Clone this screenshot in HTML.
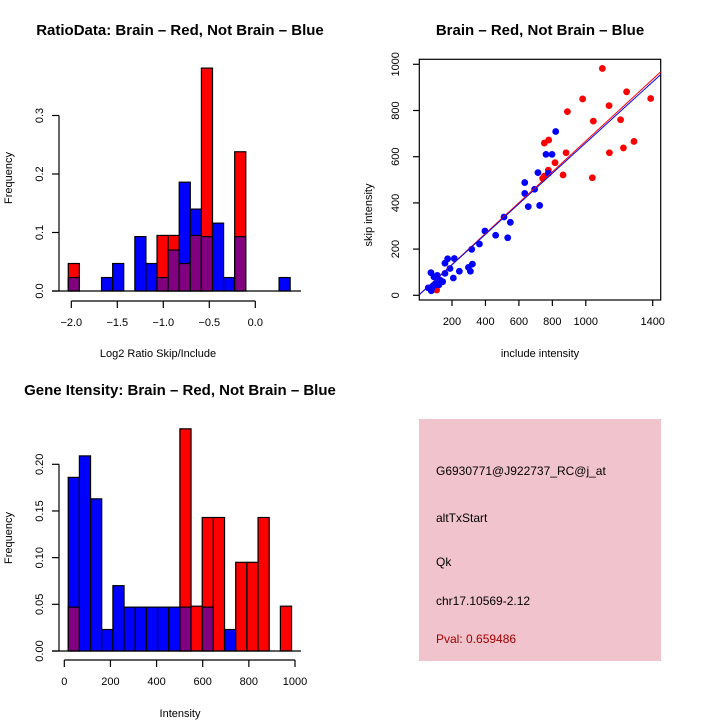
<!DOCTYPE html>
<html><head><meta charset="utf-8"><style>
body{margin:0;background:#fff}
svg{display:block;font-family:"Liberation Sans",Arial,sans-serif}
</style></head><body>
<svg id="c" width="720" height="720" xmlns="http://www.w3.org/2000/svg">
<rect width="720" height="720" fill="#fff"/>
<text x="180" y="35" font-size="15" font-weight="bold" text-anchor="middle">RatioData: Brain – Red, Not Brain – Blue</text>
<text x="540" y="35" font-size="15" font-weight="bold" text-anchor="middle">Brain – Red, Not Brain – Blue</text>
<text x="180" y="395" font-size="15" font-weight="bold" text-anchor="middle">Gene Itensity: Brain – Red, Not Brain – Blue</text>
<text x="158" y="357" font-size="11" text-anchor="middle">Log2 Ratio Skip/Include</text>
<text x="12" y="178" font-size="11" text-anchor="middle" transform="rotate(-90 12 178)">Frequency</text>
<text x="540" y="357" font-size="11" text-anchor="middle">include intensity</text>
<text x="372" y="215" font-size="11" text-anchor="middle" transform="rotate(-90 372 215)">skip intensity</text>
<text x="180" y="717" font-size="11" text-anchor="middle">Intensity</text>
<text x="12" y="538" font-size="11" text-anchor="middle" transform="rotate(-90 12 538)">Frequency</text>
<g>
<rect x="419" y="419" width="242" height="242" fill="#f1c3cc"/>
<text x="436" y="475" font-size="12">G6930771@J922737_RC@j_at</text>
<text x="436" y="522" font-size="12">altTxStart</text>
<text x="436" y="566" font-size="12">Qk</text>
<text x="436" y="605" font-size="12">chr17.10569-2.12</text>
<text x="436" y="643" font-size="12" fill="#a00000">Pval: 0.659486</text>
</g>
</svg>
<script>
// ---- Ratio histogram data ----
const ratioBinStart = -2.033;
const ratioBinWidth = 0.1206;
const ratioRed  = [0.047,0,0,0,0,0,0,0,0.095,0.095,0.047,0.095,0.381,0,0,0.238,0,0,0,0];
const ratioBlue = [0.023,0,0,0.023,0.047,0,0.093,0.047,0.023,0.070,0.186,0.140,0.093,0.116,0.023,0.093,0,0,0,0.023];
const ratioXTicks = [-2.0,-1.5,-1.0,-0.5,0.0];
const ratioXLabels = ["−2.0","−1.5","−1.0","−0.5","0.0"];
const ratioYTicks = [0,0.1,0.2,0.3];
const ratioYLabels = ["0.0","0.1","0.2","0.3"];
// ---- Intensity histogram data ----
const intBinStart = 17;
const intBinWidth = 48.4;
const intRed  = [0.047,0,0,0,0,0,0,0,0,0,0.238,0.048,0.143,0.143,0,0.095,0.095,0.143,0,0.048];
const intBlue = [0.186,0.209,0.163,0.023,0.070,0.047,0.047,0.047,0.047,0.047,0.047,0,0.047,0,0.023,0,0,0,0,0];
const intXTicks = [0,200,400,600,800,1000];
const intYTicks = [0,0.05,0.10,0.15,0.20];
const intYLabels = ["0.00","0.05","0.10","0.15","0.20"];
// ---- Scatter data ----
const redX = [1099,981,890,1244,1139,1045,1388,1208,1288,1225,1141,778,752,816,882,776,864,1039,742,752,108];
const redY = [982,850,795,881,821,754,852,760,666,638,617,672,659,574,617,542,521,509,506,516,23];
const blueX = [820,762,798,714,776,635,635,694,656,724,511,549,397,461,533,364,318,322,298,310,244,208,214,174,158,188,158,74,92,112,128,112,84,58,76,98,122,144];
const blueY = [709,610,610,531,528,488,441,459,384,389,339,316,278,260,249,222,199,135,121,104,104,75,159,158,139,116,95,98,80,86,66,52,37,32,20,45,45,59];
const fitIntercept = [0,0];
const fitSlope = [0.668,0.660];
const fitColors = ["#ff0000","#0000ff"];
const scXTicks = [200,400,600,800,1000,1400];
const scYTicks = [0,200,400,600,800,1000];

const svg = document.getElementById('c');
const NS = 'http://www.w3.org/2000/svg';
function mk(tag, attrs, parent){const e=document.createElementNS(NS,tag);for(const k in attrs)e.setAttribute(k,attrs[k]);(parent||svg).appendChild(e);return e;}

function drawHist(cfg){
  const g = mk('g',{});
  
  
  const n = cfg.red.length;
  for(let i=0;i<n;i++){
    const x0 = cfg.sx(cfg.start + i*cfg.width), x1 = cfg.sx(cfg.start + (i+1)*cfg.width);
    const r = cfg.red[i], b = cfg.blue[i], m = Math.min(r,b);
    const draw=(v,col,nm)=>{ if(v<=0) return;
      const el = mk('rect',{x:x0,y:cfg.sy(v),width:x1-x0,height:cfg.sy(0)-cfg.sy(v),fill:col,stroke:'#000','stroke-width':1.2},g);
      
      
    };
    if(r>=b){draw(r,'#ff0000','bar-red');} else {draw(b,'#0000ff','bar-blue');}
    draw(m,'#800080','bar-overlap');
  }
  mk('line',{x1:52,x2:301,y1:cfg.sy(0),y2:cfg.sy(0),stroke:'#000','stroke-width':1.2},g);
  const ya = mk('g',{},g);
  
  
  mk('line',{x1:59,x2:59,y1:cfg.sy(cfg.yt[0]),y2:cfg.sy(cfg.yt[cfg.yt.length-1]),stroke:'#000','stroke-width':1.2},ya);
  cfg.yt.forEach((v,i)=>{const y=cfg.sy(v);
    mk('line',{x1:52,x2:59,y1:y,y2:y,stroke:'#000','stroke-width':1.2},ya);
    const t=mk('text',{x:43,y:y,'font-size':11,'text-anchor':'middle',transform:`rotate(-90 43 ${y})`},ya);t.textContent=cfg.yl[i];
  });
  const xa = mk('g',{},g);
  
  
  const xy = cfg.axisY;
  mk('line',{x1:cfg.sx(cfg.xt[0]),x2:cfg.sx(cfg.xt[cfg.xt.length-1]),y1:xy,y2:xy,stroke:'#000','stroke-width':1.2},xa);
  cfg.xt.forEach((v,i)=>{const x=cfg.sx(v);
    mk('line',{x1:x,x2:x,y1:xy,y2:xy+7,stroke:'#000','stroke-width':1.2},xa);
    const t=mk('text',{x:x,y:xy+25,'font-size':11,'text-anchor':'middle'},xa);t.textContent=cfg.xl[i];
  });
}
drawHist({name:'ratio-histogram',start:ratioBinStart,width:ratioBinWidth,red:ratioRed,blue:ratioBlue,
  sx:v=>255.3+v*92, sy:v=>291-v*585, xt:ratioXTicks, xl:ratioXLabels, yt:ratioYTicks, yl:ratioYLabels, axisY:301});
drawHist({name:'intensity-histogram',start:intBinStart,width:intBinWidth,red:intRed,blue:intBlue,
  sx:v=>64.3+v*0.2307, sy:v=>651-v*933.5, xt:intXTicks, xl:intXTicks.map(String), yt:intYTicks, yl:intYLabels, axisY:660});

const sX = v=>418.55+v*0.16725, sY = v=>295.3-v*0.231;
const sg = mk('g',{});


const fr = mk('rect',{x:419.3,y:59.3,width:241.4,height:240.7,fill:'none',stroke:'#000','stroke-width':1.2},sg);


scXTicks.forEach(v=>{const x=sX(v);
  mk('line',{x1:x,x2:x,y1:300,y2:306,stroke:'#000','stroke-width':1.2},sg);
  const t=mk('text',{x:x,y:325,'font-size':11,'text-anchor':'middle'},sg);t.textContent=String(v);});
scYTicks.forEach(v=>{const y=sY(v);
  mk('line',{x1:413,x2:419.3,y1:y,y2:y,stroke:'#000','stroke-width':1.2},sg);
  const t=mk('text',{x:399,y:y,'font-size':11,'text-anchor':'middle',transform:`rotate(-90 399 ${y})`},sg);t.textContent=String(v);});
const clip = mk('clipPath',{id:'scclip'},sg); mk('rect',{x:419.3,y:59.3,width:241.4,height:240.7},clip);
const pts = mk('g',{'clip-path':'url(#scclip)'},sg);
redX.forEach((x,i)=>{const c=mk('circle',{cx:sX(x),cy:sY(redY[i]),r:3.4,fill:'#ff0000'},pts);
  
  });
blueX.forEach((x,i)=>{const c=mk('circle',{cx:sX(x),cy:sY(blueY[i]),r:3.4,fill:'#0000ff'},pts);
  
  });
fitSlope.forEach((s,i)=>{const l=mk('line',{x1:sX(0),y1:sY(fitIntercept[i]),x2:sX(1450),y2:sY(fitIntercept[i]+s*1450),stroke:fitColors[i],'stroke-width':1},pts);
  
  });
</script>
</body></html>
